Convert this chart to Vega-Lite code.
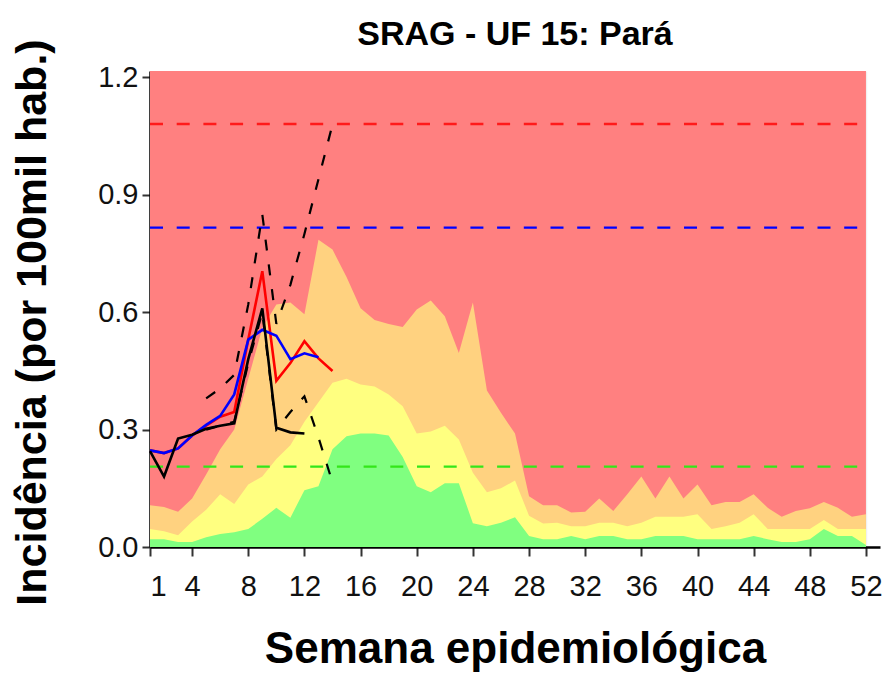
{
  "$schema": "https://vega.github.io/schema/vega-lite/v6.json",
  "width": 730,
  "height": 476,
  "autosize": "none",
  "padding": {"left": 150, "top": 71, "right": 6, "bottom": 130},
  "background": "white",
  "title": {"text": "SRAG - UF 15: Pará", "anchor": "middle", "font": "Liberation Sans", "fontSize": 34, "fontWeight": "bold", "color": "#000000", "offset": 0, "baseline": "alphabetic", "dy": 40},
  "config": {
    "view": {"stroke": null},
    "axis": {"labelFont": "Liberation Sans", "labelFontSize": 29, "labelColor": "#111111", "titleFont": "Liberation Sans", "titleFontWeight": "bold", "titleColor": "#000000", "domainColor": "#000000", "domainWidth": 2.5, "tickColor": "#333333", "tickWidth": 2, "gridColor": "#000000", "gridOpacity": 0.06, "gridWidth": 1.5, "zindex": 1}
  },
  "datasets": {
    "bands": [
      {"week": 1, "green": 0.02, "yellow": 0.046, "orange": 0.107},
      {"week": 2, "green": 0.02, "yellow": 0.04, "orange": 0.102},
      {"week": 3, "green": 0.013, "yellow": 0.03, "orange": 0.09},
      {"week": 4, "green": 0.013, "yellow": 0.065, "orange": 0.124},
      {"week": 5, "green": 0.025, "yellow": 0.095, "orange": 0.185},
      {"week": 6, "green": 0.033, "yellow": 0.135, "orange": 0.25},
      {"week": 7, "green": 0.038, "yellow": 0.11, "orange": 0.3},
      {"week": 8, "green": 0.046, "yellow": 0.16, "orange": 0.43},
      {"week": 9, "green": 0.072, "yellow": 0.18, "orange": 0.56},
      {"week": 10, "green": 0.1, "yellow": 0.225, "orange": 0.62},
      {"week": 11, "green": 0.075, "yellow": 0.26, "orange": 0.625},
      {"week": 12, "green": 0.145, "yellow": 0.32, "orange": 0.595},
      {"week": 13, "green": 0.155, "yellow": 0.37, "orange": 0.785},
      {"week": 14, "green": 0.25, "yellow": 0.42, "orange": 0.76},
      {"week": 15, "green": 0.283, "yellow": 0.43, "orange": 0.69},
      {"week": 16, "green": 0.29, "yellow": 0.415, "orange": 0.61},
      {"week": 17, "green": 0.29, "yellow": 0.41, "orange": 0.58},
      {"week": 18, "green": 0.285, "yellow": 0.39, "orange": 0.57},
      {"week": 19, "green": 0.23, "yellow": 0.36, "orange": 0.562},
      {"week": 20, "green": 0.155, "yellow": 0.29, "orange": 0.607},
      {"week": 21, "green": 0.14, "yellow": 0.295, "orange": 0.63},
      {"week": 22, "green": 0.163, "yellow": 0.31, "orange": 0.59},
      {"week": 23, "green": 0.163, "yellow": 0.275, "orange": 0.496},
      {"week": 24, "green": 0.061, "yellow": 0.19, "orange": 0.625},
      {"week": 25, "green": 0.053, "yellow": 0.14, "orange": 0.4},
      {"week": 26, "green": 0.062, "yellow": 0.15, "orange": 0.343},
      {"week": 27, "green": 0.076, "yellow": 0.17, "orange": 0.29},
      {"week": 28, "green": 0.028, "yellow": 0.08, "orange": 0.13},
      {"week": 29, "green": 0.02, "yellow": 0.06, "orange": 0.107},
      {"week": 30, "green": 0.02, "yellow": 0.062, "orange": 0.107},
      {"week": 31, "green": 0.028, "yellow": 0.053, "orange": 0.088},
      {"week": 32, "green": 0.02, "yellow": 0.053, "orange": 0.09},
      {"week": 33, "green": 0.028, "yellow": 0.062, "orange": 0.124},
      {"week": 34, "green": 0.028, "yellow": 0.062, "orange": 0.092},
      {"week": 35, "green": 0.02, "yellow": 0.053, "orange": 0.135},
      {"week": 36, "green": 0.02, "yellow": 0.062, "orange": 0.18},
      {"week": 37, "green": 0.028, "yellow": 0.077, "orange": 0.124},
      {"week": 38, "green": 0.028, "yellow": 0.077, "orange": 0.18},
      {"week": 39, "green": 0.028, "yellow": 0.077, "orange": 0.124},
      {"week": 40, "green": 0.02, "yellow": 0.084, "orange": 0.16},
      {"week": 41, "green": 0.02, "yellow": 0.046, "orange": 0.107},
      {"week": 42, "green": 0.02, "yellow": 0.053, "orange": 0.115},
      {"week": 43, "green": 0.02, "yellow": 0.062, "orange": 0.115},
      {"week": 44, "green": 0.028, "yellow": 0.084, "orange": 0.135},
      {"week": 45, "green": 0.02, "yellow": 0.046, "orange": 0.1},
      {"week": 46, "green": 0.013, "yellow": 0.046, "orange": 0.077},
      {"week": 47, "green": 0.013, "yellow": 0.046, "orange": 0.092},
      {"week": 48, "green": 0.02, "yellow": 0.046, "orange": 0.099},
      {"week": 49, "green": 0.046, "yellow": 0.069, "orange": 0.115},
      {"week": 50, "green": 0.028, "yellow": 0.046, "orange": 0.1},
      {"week": 51, "green": 0.028, "yellow": 0.046, "orange": 0.077},
      {"week": 52, "green": 0.005, "yellow": 0.046, "orange": 0.084}
    ],
    "thresholds": [
      {"level": "alto", "value": 1.081, "from": 1, "to": 52},
      {"level": "medio", "value": 0.816, "from": 1, "to": 52},
      {"level": "baixo", "value": 0.2055, "from": 1, "to": 52}
    ],
    "lines": [
      {"week": 1, "series": "estimado", "value": 0.247},
      {"week": 2, "series": "estimado", "value": 0.24},
      {"week": 3, "series": "estimado", "value": 0.252},
      {"week": 4, "series": "estimado", "value": 0.285},
      {"week": 5, "series": "estimado", "value": 0.31},
      {"week": 6, "series": "estimado", "value": 0.333},
      {"week": 7, "series": "estimado", "value": 0.345},
      {"week": 8, "series": "estimado", "value": 0.53},
      {"week": 9, "series": "estimado", "value": 0.705},
      {"week": 10, "series": "estimado", "value": 0.425},
      {"week": 11, "series": "estimado", "value": 0.47},
      {"week": 12, "series": "estimado", "value": 0.526},
      {"week": 13, "series": "estimado", "value": 0.482},
      {"week": 14, "series": "estimado", "value": 0.45},
      {"week": 1, "series": "media", "value": 0.247},
      {"week": 2, "series": "media", "value": 0.24},
      {"week": 3, "series": "media", "value": 0.252},
      {"week": 4, "series": "media", "value": 0.285},
      {"week": 5, "series": "media", "value": 0.312},
      {"week": 6, "series": "media", "value": 0.335},
      {"week": 7, "series": "media", "value": 0.39},
      {"week": 8, "series": "media", "value": 0.53},
      {"week": 9, "series": "media", "value": 0.555},
      {"week": 10, "series": "media", "value": 0.54},
      {"week": 11, "series": "media", "value": 0.48},
      {"week": 12, "series": "media", "value": 0.495},
      {"week": 13, "series": "media", "value": 0.485},
      {"week": 1, "series": "notificado", "value": 0.245},
      {"week": 2, "series": "notificado", "value": 0.18},
      {"week": 3, "series": "notificado", "value": 0.277},
      {"week": 4, "series": "notificado", "value": 0.287},
      {"week": 5, "series": "notificado", "value": 0.302},
      {"week": 6, "series": "notificado", "value": 0.31},
      {"week": 7, "series": "notificado", "value": 0.316},
      {"week": 8, "series": "notificado", "value": 0.48},
      {"week": 9, "series": "notificado", "value": 0.61},
      {"week": 10, "series": "notificado", "value": 0.305},
      {"week": 11, "series": "notificado", "value": 0.293},
      {"week": 12, "series": "notificado", "value": 0.29}
    ],
    "ci": [
      {"week": 5, "bound": "superior", "value": 0.38},
      {"week": 6, "bound": "superior", "value": 0.405},
      {"week": 7, "bound": "superior", "value": 0.44},
      {"week": 8, "bound": "superior", "value": 0.62},
      {"week": 9, "bound": "superior", "value": 0.85},
      {"week": 10, "bound": "superior", "value": 0.57},
      {"week": 11, "bound": "superior", "value": 0.67},
      {"week": 12, "bound": "superior", "value": 0.8},
      {"week": 13, "bound": "superior", "value": 0.94},
      {"week": 14, "bound": "superior", "value": 1.08},
      {"week": 5, "bound": "inferior", "value": 0.3},
      {"week": 6, "bound": "inferior", "value": 0.31},
      {"week": 7, "bound": "inferior", "value": 0.32},
      {"week": 8, "bound": "inferior", "value": 0.47},
      {"week": 9, "bound": "inferior", "value": 0.6},
      {"week": 10, "bound": "inferior", "value": 0.3},
      {"week": 11, "bound": "inferior", "value": 0.345},
      {"week": 12, "bound": "inferior", "value": 0.385},
      {"week": 13, "bound": "inferior", "value": 0.28},
      {"week": 14, "bound": "inferior", "value": 0.165}
    ]
  },
  "encoding": {
    "x": {"field": "week", "type": "quantitative", "title": "Semana epidemiológica", "scale": {"domain": [1, 53], "nice": false, "zero": false},
      "axis": {"values": [1, 4, 8, 12, 16, 20, 24, 28, 32, 36, 40, 44, 48, 52], "tickSize": 9, "labelPadding": 16, "titleFontSize": 44, "titlePadding": 26}}
  },
  "layer": [
    {
      "data": {"name": "bands"},
      "mark": {"type": "area", "color": "#FF8080", "opacity": 1},
      "encoding": {
        "y": {"datum": 1.2165, "type": "quantitative", "scale": {"domain": [0, 1.2165], "nice": false},
          "axis": {"title": "Incidência (por 100mil hab.)", "values": [0, 0.3, 0.6, 0.9, 1.2], "format": ".1f", "tickSize": 8, "labelPadding": 4, "titleFontSize": 43, "titlePadding": 43, "titleY": 251}}
      }
    },
    {
      "data": {"name": "bands"},
      "mark": {"type": "area", "color": "#FFD280", "opacity": 1},
      "encoding": {
        "y": {"field": "orange", "type": "quantitative", "title": "Incidência (por 100mil hab.)", "scale": {"domain": [0, 1.2165], "nice": false}}
      }
    },
    {
      "data": {"name": "bands"},
      "mark": {"type": "area", "color": "#FFFF80", "opacity": 1},
      "encoding": {
        "y": {"field": "yellow", "type": "quantitative", "title": "Incidência (por 100mil hab.)", "scale": {"domain": [0, 1.2165], "nice": false}}
      }
    },
    {
      "data": {"name": "bands"},
      "mark": {"type": "area", "color": "#80FF80", "opacity": 1},
      "encoding": {
        "y": {"field": "green", "type": "quantitative", "title": "Incidência (por 100mil hab.)", "scale": {"domain": [0, 1.2165], "nice": false}}
      }
    },
    {
      "data": {"name": "thresholds"},
      "mark": {"type": "rule", "strokeWidth": 2.3, "strokeDash": [13, 13.7]},
      "encoding": {
        "x": {"field": "from", "type": "quantitative", "title": "Semana epidemiológica", "scale": {"domain": [1, 53], "nice": false, "zero": false}},
        "x2": {"field": "to"},
        "y": {"field": "value", "type": "quantitative", "title": "Incidência (por 100mil hab.)", "scale": {"domain": [0, 1.2165], "nice": false}},
        "color": {"field": "level", "type": "nominal", "legend": null, "scale": {"domain": ["alto", "medio", "baixo"], "range": ["#FF1A1A", "#0000FF", "#33E619"]}}
      }
    },
    {
      "data": {"name": "ci"},
      "mark": {"type": "line", "color": "#000000", "strokeWidth": 2.2, "strokeDash": [11, 14]},
      "encoding": {
        "y": {"field": "value", "type": "quantitative", "title": "Incidência (por 100mil hab.)", "scale": {"domain": [0, 1.2165], "nice": false}},
        "detail": {"field": "bound", "type": "nominal"}
      }
    },
    {
      "data": {"name": "lines"},
      "transform": [{"filter": "datum.series === 'estimado'"}],
      "mark": {"type": "line", "color": "#FF0000", "strokeWidth": 2.6},
      "encoding": {
        "y": {"field": "value", "type": "quantitative", "title": "Incidência (por 100mil hab.)", "scale": {"domain": [0, 1.2165], "nice": false}}
      }
    },
    {
      "data": {"name": "lines"},
      "transform": [{"filter": "datum.series === 'media'"}],
      "mark": {"type": "line", "color": "#0000FF", "strokeWidth": 2.6},
      "encoding": {
        "y": {"field": "value", "type": "quantitative", "title": "Incidência (por 100mil hab.)", "scale": {"domain": [0, 1.2165], "nice": false}}
      }
    },
    {
      "data": {"name": "lines"},
      "transform": [{"filter": "datum.series === 'notificado'"}],
      "mark": {"type": "line", "color": "#000000", "strokeWidth": 2.6},
      "encoding": {
        "y": {"field": "value", "type": "quantitative", "title": "Incidência (por 100mil hab.)", "scale": {"domain": [0, 1.2165], "nice": false}}
      }
    }
  ]
}
